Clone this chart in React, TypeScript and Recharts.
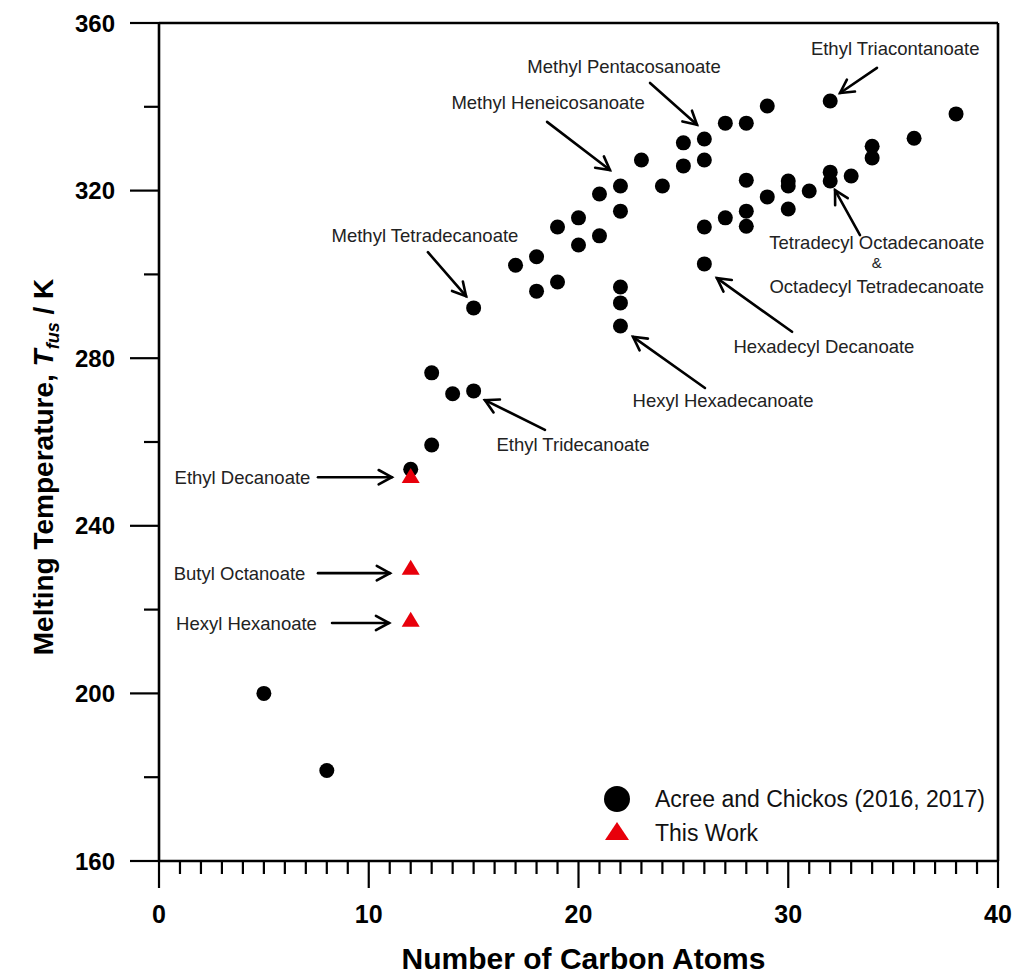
import React from 'react'
import {
  ScatterChart, Scatter, XAxis, YAxis, ReferenceLine, ReferenceDot, Legend,
} from 'recharts'

// Acree and Chickos (2016, 2017) literature values
const acreeCarbons = [
  5, 8, 12, 13, 13, 14, 15, 15, 17, 18, 18, 19, 19, 20, 20, 21, 21,
  22, 22, 22, 22, 22, 23, 24, 25, 25, 26, 26, 26, 26, 27, 27, 28, 28, 28, 28,
  29, 29, 30, 30, 30, 31, 32, 32, 32, 33, 34, 34, 36, 38,
]
const acreeTemps = [
  200, 181.6, 253.5, 259.3, 276.5, 271.5, 272.2, 292, 302.2, 304.2, 296, 298.2, 311.3, 313.5, 307, 319.2, 309.2,
  321.1, 315.1, 297, 293.2, 287.7, 327.3, 321.1, 331.4, 325.9, 332.3, 327.3, 311.3, 302.5, 336.1, 313.5, 336.1, 322.5, 315.1, 311.5,
  340.2, 318.5, 322.3, 321.1, 315.6, 319.9, 341.4, 324.4, 322.3, 323.5, 330.6, 327.8, 332.5, 338.3,
]

// this work
const workCarbons = [12, 12, 12]
const workTemps = [251.4, 229.5, 217.1]

const xTicks = Array.from({ length: 41 }, (_, i) => i)
const yTicks = [160, 180, 200, 220, 240, 260, 280, 300, 320, 340, 360]

const legendLabels = ['Acree and Chickos (2016, 2017)', 'This Work']

// annotation text, placed in data units
const notes = [
  { text: 'Ethyl Triacontanoate', c: 35.1, t: 354.0 },
  { text: 'Methyl Pentacosanoate', c: 22.17, t: 349.5 },
  { text: 'Methyl Heneicosanoate', c: 18.55, t: 341.1 },
  { text: 'Methyl Tetradecanoate', c: 12.68, t: 309.4 },
  { text: 'Tetradecyl Octadecanoate', c: 34.22, t: 307.7 },
  { text: '&', c: 34.22, t: 302.9, small: true },
  { text: 'Octadecyl Tetradecanoate', c: 34.22, t: 297.0 },
  { text: 'Hexadecyl Decanoate', c: 31.7, t: 282.9 },
  { text: 'Hexyl Hexadecanoate', c: 26.89, t: 270.0 },
  { text: 'Ethyl Tridecanoate', c: 19.74, t: 259.5 },
  { text: 'Ethyl Decanoate', c: 3.98, t: 251.6 },
  { text: 'Butyl Octanoate', c: 3.84, t: 228.7 },
  { text: 'Hexyl Hexanoate', c: 4.17, t: 216.8 },
]

// arrows: from [c, t] to [c, t]
const arrows = [
  [[34.23, 349.3], [32.47, 343.3]],
  [[23.41, 345.7], [25.65, 335.7]],
  [[18.5, 336.4], [21.5, 324.9]],
  [[12.82, 305.3], [14.64, 294.8]],
  [[33.42, 309.4], [32.23, 320.1]],
  [[30.18, 286.3], [26.6, 299.1]],
  [[26.03, 272.9], [22.6, 285.1]],
  [[18.4, 262.9], [15.54, 270.0]],
  [[7.58, 251.6], [11.1, 251.6]],
  [[7.58, 228.7], [11.01, 228.7]],
  [[8.25, 216.8], [10.97, 216.8]],
]

const acreeData = acreeCarbons.map((c, i) => ({ c, t: acreeTemps[i] }))
const workData = workCarbons.map((c, i) => ({ c, t: workTemps[i] }))

const sans = '"Liberation Sans", Arial, Helvetica, sans-serif'

const Dot = (p: any) => <circle cx={p.cx} cy={p.cy} r={7.5} fill="#000" />

const Tri = (p: any) => (
  <path d={`M${p.cx},${p.cy - 10}L${p.cx + 9},${p.cy + 5}L${p.cx - 9},${p.cy + 5}Z`} fill="#e8000b" />
)

const Arrow = (p: any) => {
  const { x1, y1, x2, y2 } = p
  const a = Math.atan2(y2 - y1, x2 - x1)
  const len = 15
  const spread = 0.5
  const hx1 = x2 - len * Math.cos(a - spread)
  const hy1 = y2 - len * Math.sin(a - spread)
  const hx2 = x2 - len * Math.cos(a + spread)
  const hy2 = y2 - len * Math.sin(a + spread)
  return (
    <g stroke="#000" strokeWidth={2.6} fill="none" strokeLinecap="round">
      <line x1={x1} y1={y1} x2={x2} y2={y2} />
      <polyline points={`${hx1},${hy1} ${x2},${y2} ${hx2},${hy2}`} strokeLinejoin="miter" />
    </g>
  )
}

const YTick = (p: any) => {
  const { x, y, payload } = p
  const major = payload.value % 40 === 0
  return (
    <g>
      <line x1={x - (major ? 29 : 15)} y1={y} x2={x} y2={y} stroke="#000" strokeWidth={2.2} />
      {major && (
        <text x={x - 44} y={y} textAnchor="end" dominantBaseline="central"
          fontFamily={sans} fontWeight="bold" fontSize={24} fill="#000">
          {payload.value}
        </text>
      )}
    </g>
  )
}

const XTick = (p: any) => {
  const { x, y, payload } = p
  const major = payload.value % 10 === 0
  return (
    <g>
      <line x1={x} y1={y} x2={x} y2={y + (major ? 27 : 13)} stroke="#000" strokeWidth={2.2} />
      {major && (
        <text x={x} y={y + 53} textAnchor="middle" dominantBaseline="central"
          fontFamily={sans} fontWeight="bold" fontSize={25} fill="#000">
          {payload.value}
        </text>
      )}
    </g>
  )
}

const YTitle = (p: any) => {
  const vb = p.viewBox
  const x = vb.x + 53
  const y = vb.y + vb.height / 2 + 25
  return (
    <text x={x} y={y} transform={`rotate(-90 ${x} ${y})`} textAnchor="middle"
      fontFamily={sans} fontWeight="bold" fontSize={28} fill="#000">
      <tspan>Melting Temperature,  </tspan>
      <tspan fontStyle="italic">T</tspan>
      <tspan fontStyle="italic" fontSize={18} dy={6}>fus</tspan>
      <tspan dy={-6}> / K</tspan>
    </text>
  )
}

const XTitle = (p: any) => {
  const vb = p.viewBox
  return (
    <text x={vb.x + vb.width / 2 + 5} y={969} textAnchor="middle"
      fontFamily={sans} fontWeight="bold" fontSize={30} fill="#000">
      Number of Carbon Atoms
    </text>
  )
}

const LegendBox = () => (
  <div style={{ fontFamily: sans, fontSize: 23, color: '#111' }}>
    {legendLabels.map((label, i) => (
      <div key={label} style={{ display: 'flex', alignItems: 'center', height: 34 }}>
        <svg width={38} height={34}>
          {i === 0
            ? <circle cx={19} cy={17} r={13} fill="#000" />
            : <path d="M19,6L31,24L7,24Z" fill="#e8000b" />}
        </svg>
        <span style={{ marginLeft: 19, whiteSpace: 'nowrap' }}>{label}</span>
      </div>
    ))}
  </div>
)

export default function App() {
  return (
    <div>
      <style>{'body{margin:0;background:#fff}'}</style>
      <ScatterChart width={1015} height={979} margin={{ top: 23, right: 17, bottom: 0, left: 0 }}>
        <XAxis type="number" dataKey="c" domain={[0, 40]} ticks={xTicks} interval={0}
          tick={<XTick />} tickLine={false} tickSize={0} tickMargin={0} height={118}
          axisLine={{ stroke: '#000', strokeWidth: 2.6 }} label={<XTitle />} />
        <YAxis type="number" dataKey="t" domain={[160, 360]} ticks={yTicks} interval={0}
          tick={<YTick />} tickLine={false} tickSize={0} tickMargin={0} width={159}
          axisLine={{ stroke: '#000', strokeWidth: 2.6 }} label={<YTitle />} />
        <ReferenceLine y={360} stroke="#000" strokeWidth={2.6} />
        <ReferenceLine x={40} stroke="#000" strokeWidth={2.6} />
        {arrows.map((a, i) => (
          <ReferenceLine key={'a' + i}
            segment={[{ x: a[0][0], y: a[0][1] }, { x: a[1][0], y: a[1][1] }]}
            shape={<Arrow />} />
        ))}
        {notes.map((n, i) => (
          <ReferenceDot key={'n' + i} x={n.c} y={n.t} r={0}
            shape={(p: any) => (
              <text x={p.cx} y={p.cy} textAnchor="middle" dominantBaseline="central"
                fontFamily={sans} fontSize={n.small ? 15 : 18.5} fill="#222">{n.text}</text>
            )} />
        ))}
        <Scatter data={acreeData} shape={<Dot />} isAnimationActive={false} />
        <Scatter data={workData} shape={<Tri />} isAnimationActive={false} />
        <Legend layout="vertical" align="center" verticalAlign="middle" content={<LegendBox />}
          wrapperStyle={{ left: 598, top: 782, width: 410 }} />
      </ScatterChart>
    </div>
  )
}
